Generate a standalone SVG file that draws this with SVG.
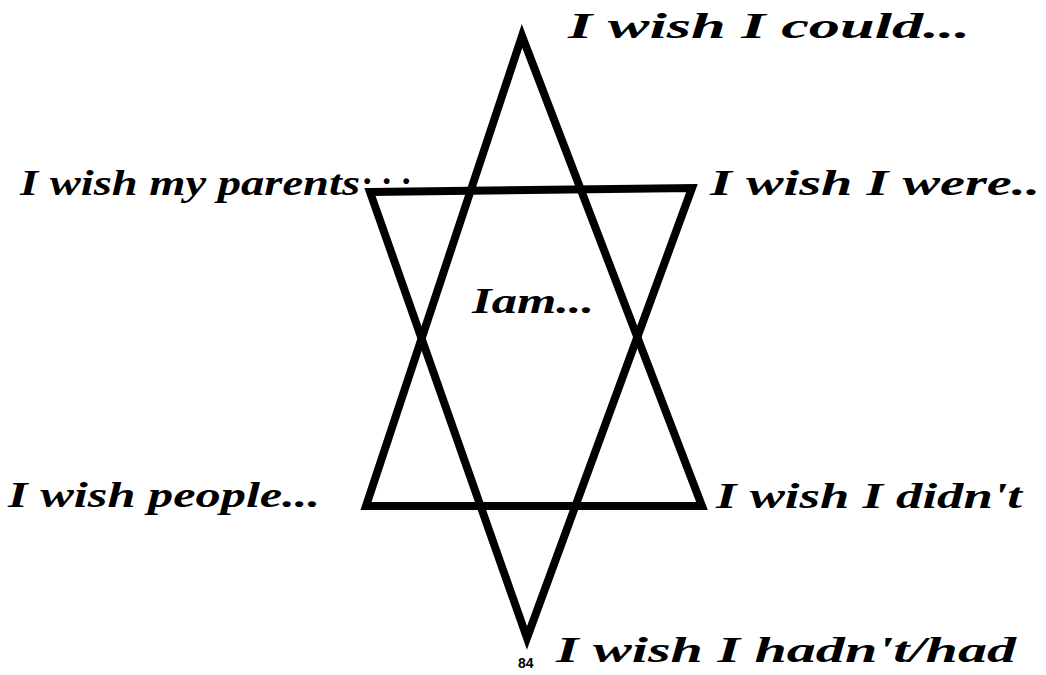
<svg xmlns="http://www.w3.org/2000/svg" width="1046" height="675" viewBox="0 0 1046 675">
<style>
.hand{font-family:"Liberation Serif","DejaVu Serif",serif;font-style:italic;font-weight:bold;font-size:36px;fill:#000}
.tri{fill:none;stroke:#000;stroke-width:8;stroke-linejoin:miter}
.num{font-family:"Liberation Sans",Arial,sans-serif;font-weight:bold;font-size:14px;fill:#000}
</style>
<rect width="1046" height="675" fill="#fff"/>
<g id="star">
<polygon id="triangle-up" class="tri" points="522,36 366,506 702,506"/>
<polygon id="triangle-down" class="tri" points="370,192 692,188 527,638"/>
</g>
<g id="label-could"><text class="hand" x="568" y="38" textLength="402" lengthAdjust="spacingAndGlyphs">I wish I could...</text></g>
<g id="label-parents"><text class="hand" x="20" y="195"><tspan textLength="340" lengthAdjust="spacingAndGlyphs">I wish my parents</tspan><tspan x="364" y="184" textLength="48" lengthAdjust="spacing">...</tspan></text></g>
<g id="label-were"><text class="hand" x="710" y="195" textLength="330" lengthAdjust="spacingAndGlyphs">I wish I were..</text></g>
<g id="label-iam"><text class="hand" x="472" y="313" textLength="122" lengthAdjust="spacingAndGlyphs">Iam...</text></g>
<g id="label-people"><text class="hand" x="8" y="507" textLength="312" lengthAdjust="spacingAndGlyphs">I wish people...</text></g>
<g id="label-didnt"><text class="hand" x="716" y="508" textLength="306" lengthAdjust="spacingAndGlyphs">I wish I didn't</text></g>
<g id="label-hadnt"><text class="hand" x="556" y="662" textLength="460" lengthAdjust="spacingAndGlyphs">I wish I hadn't/had</text></g>
<g id="page-number"><text class="num" x="518" y="668">84</text></g>
</svg>
